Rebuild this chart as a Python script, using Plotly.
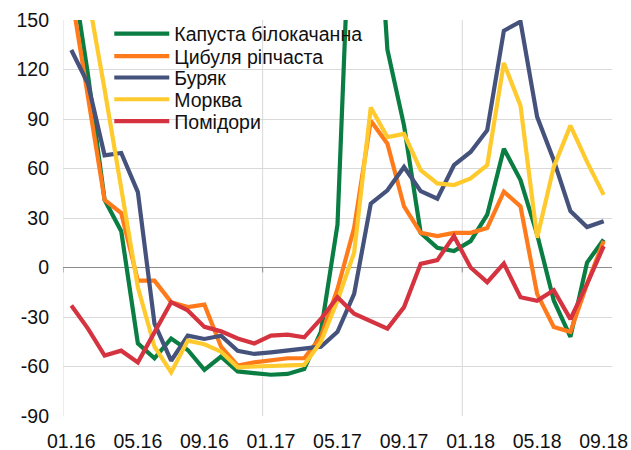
import plotly.graph_objects as go

months = ["01.16", "02.16", "03.16", "04.16", "05.16", "06.16", "07.16", "08.16", "09.16", "10.16", "11.16", "12.16",
          "01.17", "02.17", "03.17", "04.17", "05.17", "06.17", "07.17", "08.17", "09.17", "10.17", "11.17", "12.17",
          "01.18", "02.18", "03.18", "04.18", "05.18", "06.18", "07.18", "08.18", "09.18"]

tick_labels = ["01.16", "05.16", "09.16", "01.17", "05.17", "09.17", "01.18", "05.18", "09.18"]
y_ticks = [-90, -60, -30, 0, 30, 60, 90, 120, 150]
y_tick_text = ["-90", "-60", "-30", "0", "30", "60", "90", "120", "150"]

kapusta = [183, 117, 41, 22, -46, -55, -43, -50, -62, -54, -63, -64, -65, -64.5, -61.5, -39, 26, 280, 285, 132, 86,
           21, 12, 10, 16, 32, 72, 53, 20, -20, -42, 3, 17]
cybulia = [166, 104, 41, 33, -8, -8, -21, -24, -22.5, -48, -59.5, -57.5, -56, -55, -55, -42, -13, 24, 89, 75, 37,
           21, 19, 21, 21, 24, 46, 37, -16, -36, -39, -10, 16]
buriak = [131.8, 111.5, 68, 69.4, 45.7, -34, -56.5, -41.3, -43.3, -41.3, -50.5, -52.4, -51.4, -50.4, -49.4, -48, -39,
          -16, 38.7, 46.8, 60.9, 46.3, 41.7, 62, 70, 83.2, 143.5, 149, 91.3, 65, 34.2, 24.5, 28]
morkva = [210, 165, 108, 46, -12, -48, -63.6, -44.3, -46.5, -51, -60.5, -60, -59.5, -59.5, -59, -45, -20, 9, 97, 79,
          81, 59, 51, 50, 54, 62, 124, 98, 18, 61, 86, 64, 44]
pomidory = [-23, -37, -53.4, -50.4, -57.5, -39.5, -21, -26, -36, -38.7, -43, -46, -41.3, -40.7, -42.3, -31.2, -18, -28,
            -32.6, -37, -24, 2.2, 4.5, 19, 0, -8.9, 2.4, -18, -20.2, -13.8, -31.3, -10, 12.9]

series = [
    ("Капуста білокачанна", kapusta, "#0A7D43"),
    ("Цибуля ріпчаста", cybulia, "#FF7A1A"),
    ("Буряк", buriak, "#44527C"),
    ("Морква", morkva, "#FFCA2E"),
    ("Помідори", pomidory, "#D4333F"),
]

font_family = "Arial, Liberation Sans, sans-serif"
grid_col = "#d9d9d9"
legend_names = ["legend", "legend2", "legend3", "legend4", "legend5"]
legend_rows_y = [0.965, 0.908, 0.854, 0.799, 0.744]

fig = go.Figure()
for (name, vals, col), lg in zip(series, legend_names):
    fig.add_trace(go.Scatter(x=months, y=vals, name=name, mode="lines", legend=lg,
                             line=dict(color=col, width=4.2)))

shapes = []
for xv in [-0.5, 11.5, 23.5]:
    shapes.append(dict(type="line", xref="x", yref="y", x0=xv, x1=xv, y0=-90, y1=150,
                       line=dict(color=grid_col, width=1), layer="below"))
    shapes.append(dict(type="line", xref="x", yref="y", x0=xv, x1=xv, y0=0, y1=-3,
                       line=dict(color="#8c8c8c", width=1), layer="below"))

legend_layouts = {}
for lg, yv in zip(legend_names, legend_rows_y):
    legend_layouts[lg] = dict(x=0.0843, y=yv, xanchor="left", yanchor="middle", bgcolor="rgba(0,0,0,0)",
                              itemwidth=55,
                              font=dict(size=19.5, family=font_family, color="#111111"))

fig.update_layout(
    width=631, height=450,
    margin=dict(l=63, r=19, t=20, b=34, autoexpand=False),
    paper_bgcolor="white", plot_bgcolor="white",
    font=dict(family=font_family, size=19.5, color="#111111"),
    showlegend=True,
    shapes=shapes,
    xaxis=dict(type="category", range=[-0.5, 32.5], tickmode="array", tickvals=tick_labels,
               ticktext=tick_labels, showgrid=False, zeroline=False, showline=False, ticks="",
               automargin=False, ticklabelstandoff=11, tickfont=dict(size=19.5)),
    yaxis=dict(range=[-90, 150], tickmode="array", tickvals=y_ticks, ticktext=y_tick_text,
               showgrid=True, gridcolor=grid_col, automargin=False,
               gridwidth=1, zeroline=True, zerolinecolor="#8c8c8c", zerolinewidth=1, showline=False,
               ticks="", ticklabelstandoff=13, tickfont=dict(size=19.5)),
    **legend_layouts,
)

page_css = ("var s=document.createElement('style');"
            "s.innerHTML='html,body{margin:0;padding:0;overflow:hidden;width:631px;height:450px;}';"
            "document.head.appendChild(s);")
fig.write_html("out.html", config={"displayModeBar": False}, post_script=page_css)
